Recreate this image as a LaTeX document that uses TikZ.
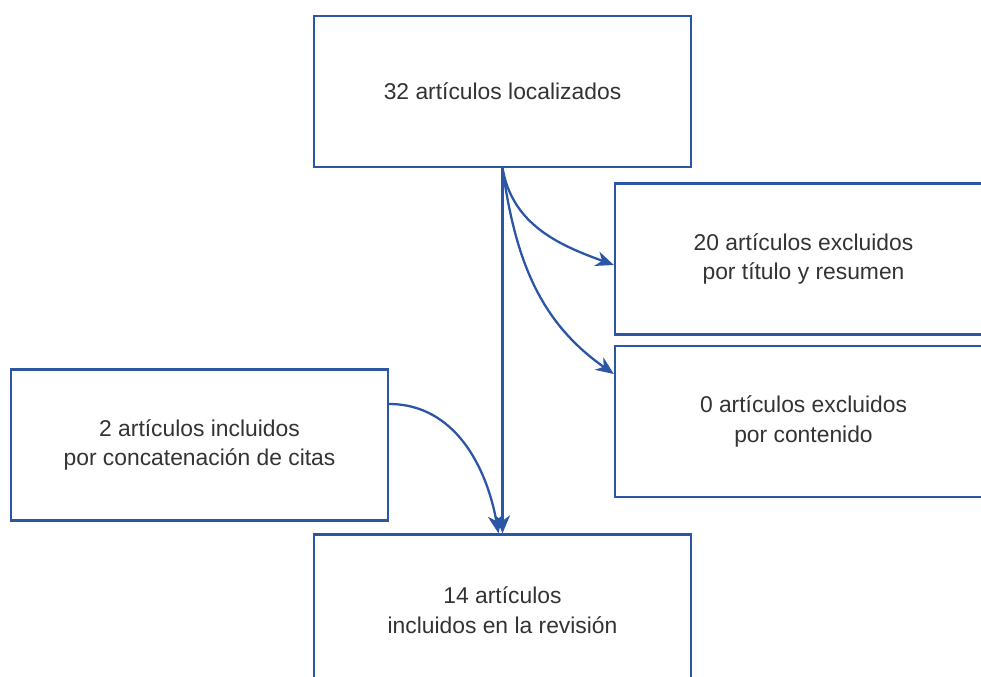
\documentclass[tikz,border=0pt]{standalone}
\usepackage{fontspec}
\setmainfont{Liberation Sans}
\usepackage{xcolor}
\usepackage{tikz}
\usetikzlibrary{arrows.meta, positioning}
\definecolor{prblue}{HTML}{2B55A5}
\tikzset{
  stagebox/.style={rectangle,draw=prblue,line width=1.3pt,minimum width=7.54cm,minimum height=3.02cm,
    align=center,font=\fontsize{13}{17}\selectfont,text=black!80},
  flowedge/.style={-{Stealth[length=3.6mm,width=3.0mm,inset=1.1mm]},line width=1.3pt,prblue},
}

\begin{document}
\begin{tikzpicture}
  \useasboundingbox (0,0) rectangle (19.62,-13.54);
  \node[stagebox] (nFound) at (10.05,-1.83) {32 artículos localizados};
  \node[stagebox] (nExclTitle) at (16.07,-5.18) {20 artículos excluidos\\por título y resumen};
  \node[stagebox] (nExclCont) at (16.07,-8.43) {0 artículos excluidos\\por contenido};
  \node[stagebox] (nCites) at (3.99,-8.90) {2 artículos incluidos\\por concatenación de citas};
  \node[stagebox] (nFinal) at (10.05,-12.20) {14 artículos\\incluidos en la revisión};
  \draw[flowedge] (nFound) -- (nFinal);
  \draw[flowedge] (nFound.south) to[out=-80,in=160] ([yshift=-0.12cm]nExclTitle.west);
  \draw[flowedge] (nFound.south) to[out=-82,in=145] ([yshift=0.95cm]nExclCont.west);
  \draw[flowedge] ([yshift=0.82cm]nCites.east) to[out=0,in=100] ([xshift=-0.08cm]nFinal.north);
\end{tikzpicture}
\end{document}
